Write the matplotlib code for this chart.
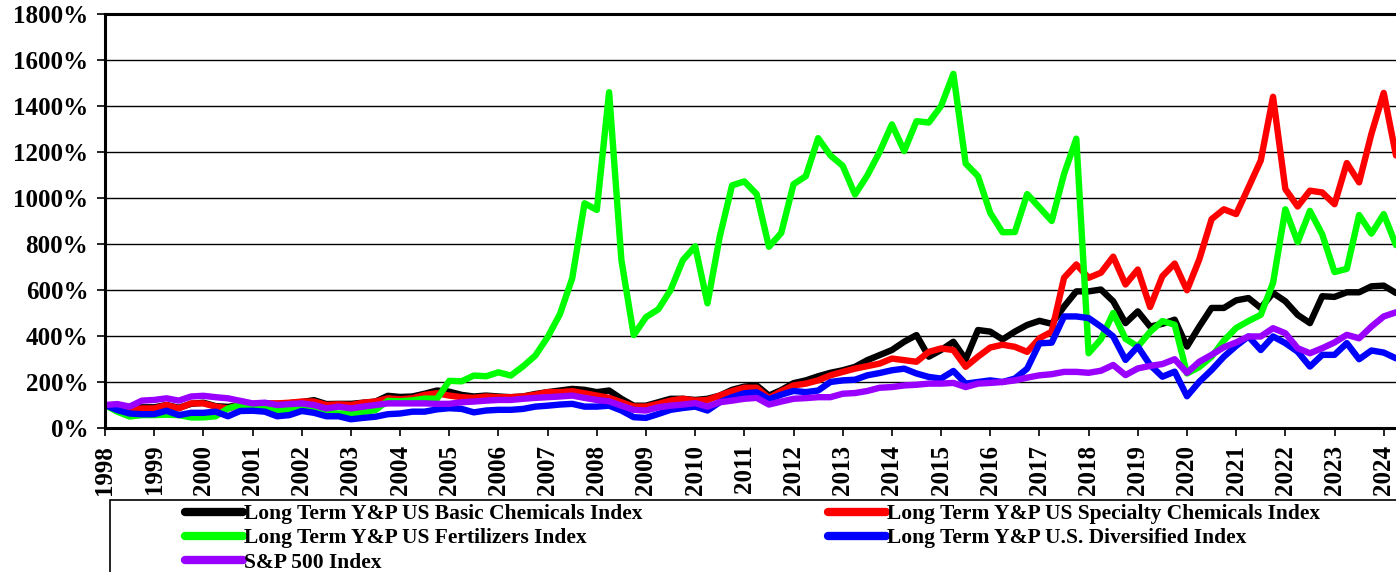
import pandas as pd
import numpy as np
import matplotlib
matplotlib.use('Agg')
import matplotlib.pyplot as plt
from matplotlib.patches import Rectangle

# quarterly index values (%), 1998Q1 .. 2024Q2
basic_chem = [100, 95, 85, 90, 90, 100, 88, 105, 110, 95, 92, 100, 104, 105, 105, 108,
              113, 121, 104, 105, 105, 110, 115, 140, 135, 137, 149, 163, 158, 144, 137, 141,
              137, 134, 137, 148, 156, 163, 170, 166, 156, 163, 127, 97, 97, 112, 127, 127,
              122, 127, 141, 166, 180, 185, 141, 165, 195, 207, 225, 240, 251, 266, 295, 317,
              339, 375, 404, 310, 339, 375, 298, 426, 419, 385, 419, 448, 466, 453, 528, 594,
              594, 602, 551, 456, 507, 441, 453, 471, 354, 441, 522, 522, 555, 565, 522, 587,
              551, 492, 456, 573, 570, 590, 590, 616, 619, 587]
specialty_chem = [100, 93, 78, 85, 85, 100, 85, 107, 107, 93, 85, 100, 104, 107, 107, 110,
                  115, 115, 100, 103, 100, 110, 115, 129, 125, 129, 144, 151, 141, 134, 131, 137,
                  134, 134, 137, 145, 156, 156, 160, 151, 141, 131, 112, 93, 93, 105, 119, 127,
                  119, 122, 141, 160, 175, 175, 130, 160, 185, 193, 207, 229, 244, 258, 269, 280,
                  302, 295, 288, 331, 346, 339, 266, 310, 350, 362, 353, 331, 390, 419, 653, 711,
                  653, 675, 745, 624, 689, 526, 660, 715, 599, 733, 908, 951, 930, 1046, 1163, 1440,
                  1039, 963, 1032, 1024, 973, 1152, 1068, 1279, 1457, 1185]
fertilizers = [100, 71, 50, 56, 56, 58, 56, 46, 46, 51, 85, 100, 100, 95, 78, 80,
               85, 80, 66, 63, 63, 70, 78, 118, 116, 120, 128, 127, 205, 203, 228, 225,
               242, 228, 268, 315, 395, 495, 651, 977, 948, 1460, 730, 404, 482, 516, 600, 730,
               790, 542, 832, 1055, 1072, 1017, 788, 848, 1060, 1095, 1260, 1185, 1140, 1015, 1098, 1200,
               1320, 1204, 1334, 1328, 1400, 1540, 1150, 1095, 935, 851, 852, 1017, 959, 900, 1104, 1258,
               325, 386, 500, 388, 354, 418, 465, 449, 237, 265, 310, 380, 435, 465, 492, 631,
               951, 808, 944, 842, 678, 692, 926, 845, 930, 795]
diversified = [100, 78, 63, 60, 60, 75, 56, 66, 66, 71, 51, 74, 75, 71, 51, 56,
               74, 66, 51, 51, 38, 44, 49, 60, 63, 71, 71, 81, 86, 83, 68, 76,
               79, 79, 83, 93, 97, 102, 105, 93, 93, 97, 76, 47, 44, 61, 79, 87,
               93, 76, 112, 134, 151, 155, 125, 145, 161, 156, 163, 200, 207, 210, 229, 239,
               251, 258, 237, 222, 215, 248, 193, 200, 207, 200, 215, 258, 368, 371, 485, 485,
               478, 441, 398, 296, 354, 274, 223, 245, 138, 201, 252, 310, 357, 398, 339, 398,
               369, 332, 267, 318, 318, 369, 299, 337, 328, 303]
sp500 = [100, 104, 93, 119, 122, 129, 119, 137, 140, 134, 129, 118, 107, 110, 100, 104,
         107, 100, 85, 93, 85, 93, 100, 107, 107, 107, 107, 105, 105, 112, 115, 119,
         122, 122, 127, 131, 134, 137, 141, 131, 122, 116, 97, 79, 76, 90, 97, 102,
         108, 93, 112, 119, 127, 131, 102, 115, 127, 130, 134, 134, 149, 152, 161, 175,
         178, 185, 188, 193, 193, 196, 178, 193, 196, 200, 207, 219, 229, 234, 244, 244,
         240, 249, 274, 230, 259, 270, 278, 299, 240, 288, 318, 351, 372, 398, 398, 434,
         412, 347, 325, 347, 372, 405, 390, 441, 485, 503]

labels = ['Long Term Y&P US Basic Chemicals Index',
          'Long Term Y&P US Specialty Chemicals Index',
          'Long Term Y&P US Fertilizers Index',
          'Long Term Y&P U.S. Diversified Index',
          'S&P 500 Index']
colors = ['#000000', '#ff0000', '#00ff00', '#0000ff', '#9900ff']
years = list(range(1998, 2025))

quarters = pd.period_range('1998Q1', '2024Q2', freq='Q')
x = quarters.year + (quarters.quarter - 1) / 4.0

plt.rcParams['font.family'] = ['Liberation Serif', 'DejaVu Serif']
plt.rcParams['font.weight'] = 'bold'

fig = plt.figure(figsize=(13.96, 5.72), dpi=100)
ax = fig.add_axes([105 / 1396, 1 - 428 / 572, 1 - 105 / 1396, (428 - 14) / 572])

series = [basic_chem, specialty_chem, fertilizers, diversified, sp500]
handles = []
for vals, lab, col in zip(series, labels, colors):
    h, = ax.plot(x, vals, color=col, lw=4.6, label=lab,
                 solid_joinstyle='round', solid_capstyle='round')
    handles.append(h)

ax.set_xlim(1998, 2024.25)
ax.set_ylim(0, 1800)
ax.set_yticks(range(0, 1801, 200))
ax.set_yticklabels([f'{v}%' for v in range(0, 1801, 200)])
ax.set_xticks(years)
ax.set_xticklabels([str(y) for y in years], rotation=90)
ax.tick_params(axis='both', labelsize=18, direction='out', length=6, width=1.2, pad=6)
ax.grid(axis='y', color='black', lw=1)
ax.set_axisbelow(True)
ax.spines['right'].set_visible(False)
for s in ['left', 'top', 'bottom']:
    ax.spines[s].set_linewidth(2.2)

# legend (Excel style: row-wise order) and its frame
order = [0, 2, 4, 1, 3]
leg = fig.legend([handles[i] for i in order], [labels[i] for i in order],
                 loc='upper left', bbox_to_anchor=(185 / 1396, 1 - 504 / 572),
                 ncol=2, frameon=False, fontsize=15.5, borderpad=0, borderaxespad=0,
                 handlelength=2.7, handletextpad=0.05, columnspacing=8.6,
                 labelspacing=0.2)
for lh in leg.get_lines():
    lh.set_linewidth(6)
    lh.set_solid_capstyle('round')
fig.patches.append(Rectangle((110 / 1396, -0.1), 1.0, 0.1 + 1 - 500 / 572,
                             transform=fig.transFigure, fill=False,
                             edgecolor='black', lw=1.2))

fig.savefig('out.png', dpi=100)
